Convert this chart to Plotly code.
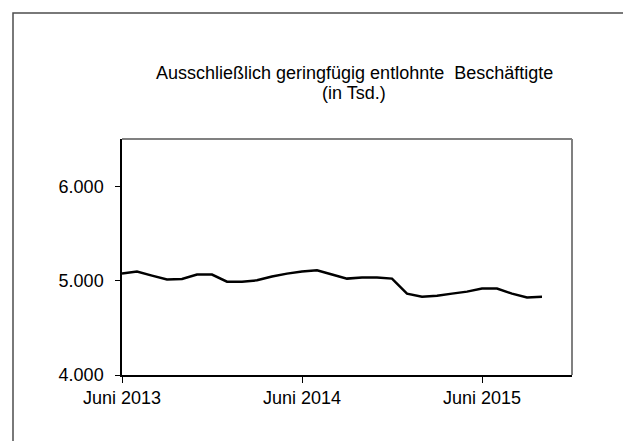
import plotly.graph_objects as go

# Months from Juni 2013 to Oktober 2015 (index 0..28)
months = ["2013-06", "2013-07", "2013-08", "2013-09", "2013-10", "2013-11", "2013-12",
          "2014-01", "2014-02", "2014-03", "2014-04", "2014-05", "2014-06", "2014-07",
          "2014-08", "2014-09", "2014-10", "2014-11", "2014-12", "2015-01", "2015-02",
          "2015-03", "2015-04", "2015-05", "2015-06", "2015-07", "2015-08", "2015-09",
          "2015-10"]
values = [5074, 5096, 5053, 5011, 5018, 5064, 5064, 4989, 4989, 5003, 5043, 5074,
          5096, 5110, 5064, 5021, 5032, 5032, 5021, 4862, 4830, 4840, 4862, 4883,
          4915, 4915, 4862, 4822, 4830]

tick_vals_idx = [0, 12, 24]
tick_texts = ["Juni 2013", "Juni 2014", "Juni 2015"]
y_ticks = [4000, 5000, 6000]
y_tick_texts = ["4.000", "5.000", "6.000"]

x_idx = list(range(len(months)))

OFF = 8  # default page body margin
W, H = 631 - OFF, 441 - OFF
L, R, T, B = 122 - OFF, 59, 139 - OFF, 66
pw, ph = W - L - R, H - T - B

def px_x(p):
    return (p - OFF - L) / pw

def px_y(p):
    return (H - B - (p - OFF)) / ph

fig = go.Figure()
fig.add_trace(go.Scatter(x=x_idx, y=values, mode="lines",
                         line=dict(color="black", width=2.5),
                         hoverinfo="skip", showlegend=False))

font = dict(family="Liberation Sans, Arial, sans-serif", size=18, color="black")

fig.update_layout(
    width=W, height=H,
    margin=dict(l=L, r=R, t=T, b=B),
    paper_bgcolor="white", plot_bgcolor="white",
    font=font,
    xaxis=dict(range=[0, 30], tickmode="array", tickvals=tick_vals_idx, ticktext=tick_texts,
               showgrid=False, zeroline=False, showline=True, linecolor="black", linewidth=1.5,
               ticks="outside", ticklen=6, tickcolor="black", tickwidth=1.2,
               tickfont=font),
    yaxis=dict(range=[4000, 6500], tickmode="array", tickvals=y_ticks, ticktext=y_tick_texts,
               showgrid=False, zeroline=False, showline=True, linecolor="black", linewidth=1.5,
               ticks="outside", ticklen=5, tickcolor="black", tickwidth=1.2,
               ticklabelstandoff=8, tickfont=font),
)

# plot area top and right borders (gray)
fig.add_shape(type="line", xref="paper", yref="paper", x0=0, x1=1, y0=1, y1=1,
              line=dict(color="#808080", width=2))
fig.add_shape(type="line", xref="paper", yref="paper", x0=1, x1=1, y0=0, y1=1,
              line=dict(color="#808080", width=2))

# outer chart frame (clipped by the image edges)
fig.add_shape(type="rect", xref="paper", yref="paper",
              x0=px_x(13), x1=px_x(631 + 20), y0=px_y(441 + 20), y1=px_y(13),
              line=dict(color="#4d4d4d", width=1.5), fillcolor="rgba(0,0,0,0)")

# title
fig.add_annotation(text="Ausschließlich geringfügig entlohnte  Beschäftigte",
                   xref="paper", yref="paper", x=px_x(354), y=px_y(73),
                   xanchor="center", yanchor="middle", showarrow=False, font=font)
fig.add_annotation(text="(in Tsd.)",
                   xref="paper", yref="paper", x=px_x(354), y=px_y(93),
                   xanchor="center", yanchor="middle", showarrow=False, font=font)

fig.write_html("out.html")
